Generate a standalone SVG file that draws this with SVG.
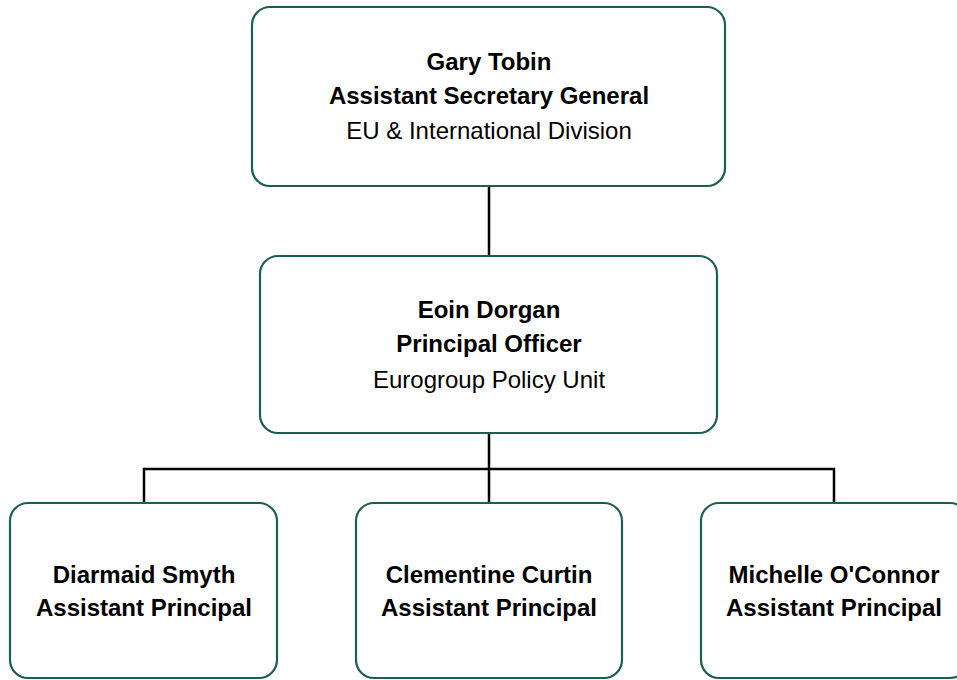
<svg xmlns="http://www.w3.org/2000/svg" width="957" height="680" viewBox="0 0 957 680">
  <style>
    .box { fill: #ffffff; stroke: #1e5e52; stroke-width: 2.2; }
    .link { fill: none; stroke: #000000; stroke-width: 2.5; }
    text { font-family: "Liberation Sans", Arial, sans-serif; font-size: 24px; fill: #000000; text-anchor: middle; }
    .b { font-weight: bold; }
  </style>

  <g id="connectors">
    <line class="link" x1="489" y1="186" x2="489" y2="256"/>
    <line class="link" x1="489" y1="433" x2="489" y2="503"/>
    <polyline class="link" points="144,503 144,469 834,469 834,503"/>
  </g>

  <g id="node-tobin">
    <rect class="box" x="252" y="7" width="473" height="179" rx="18"/>
    <text class="b" x="489" y="70">Gary Tobin</text>
    <text class="b" x="489" y="104">Assistant Secretary General</text>
    <text x="489" y="139">EU &amp; International Division</text>
  </g>

  <g id="node-dorgan">
    <rect class="box" x="260" y="256" width="457" height="177" rx="18"/>
    <text class="b" x="489" y="318">Eoin Dorgan</text>
    <text class="b" x="489" y="352">Principal Officer</text>
    <text x="489" y="388">Eurogroup Policy Unit</text>
  </g>

  <g id="node-smyth">
    <rect class="box" x="10" y="503" width="267" height="175" rx="18"/>
    <text class="b" x="144" y="583">Diarmaid Smyth</text>
    <text class="b" x="144" y="616">Assistant Principal</text>
  </g>

  <g id="node-curtin">
    <rect class="box" x="356" y="503" width="266" height="175" rx="18"/>
    <text class="b" x="489" y="583">Clementine Curtin</text>
    <text class="b" x="489" y="616">Assistant Principal</text>
  </g>

  <g id="node-oconnor">
    <rect class="box" x="701" y="503" width="267" height="175" rx="18"/>
    <text class="b" x="834" y="583">Michelle O'Connor</text>
    <text class="b" x="834" y="616">Assistant Principal</text>
  </g>
</svg>
